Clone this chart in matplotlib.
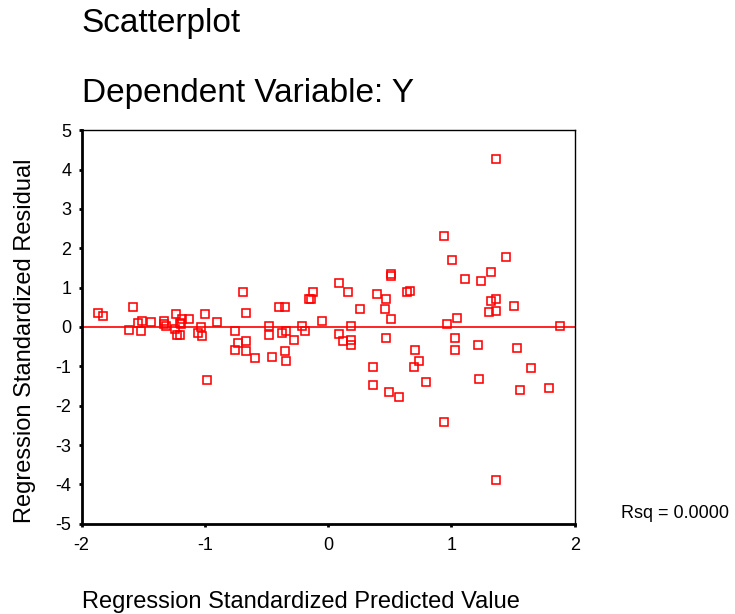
import matplotlib
matplotlib.use('Agg')
import matplotlib.pyplot as plt

plt.rcParams['font.family'] = ['Liberation Sans', 'DejaVu Sans']
plt.rcParams['axes.unicode_minus'] = False

# standardized predicted values (x) and standardized residuals (y)
pred = [-1.865, -1.830, -1.582, -1.619, -1.539, -1.513, -1.515, -1.436, -1.335, -1.319,
        -1.328, -1.238, -1.241, -1.229, -1.201, -1.203, -1.187, -1.192, -1.126, -1.031,
        -1.059, -1.022, -0.996, -0.985, -0.901, -0.694, -0.667, -0.757, -0.730, -0.667,
        -0.758, -0.667, -0.590, -0.481, -0.481, -0.454, -0.378, -0.341, -0.351, -0.343,
        -0.397, -0.351, -0.274, -0.212, -0.185, -0.154, -0.140, -0.120, -0.050, 0.089,
        0.157, 0.261, 0.182, 0.089, 0.117, 0.182, 0.182, 0.393, 0.468, 0.460,
        0.509, 0.509, 0.509, 0.468, 0.638, 0.665, 0.706, 0.733, 0.693, 0.365,
        0.365, 0.495, 0.573, 0.795, 0.963, 0.941, 1.006, 1.439, 1.111, 1.241,
        1.320, 1.317, 1.358, 1.504, 1.303, 1.358, 1.046, 1.879, 1.030, 1.030,
        1.217, 1.528, 1.646, 1.225, 1.552, 1.790, 1.358, 1.358, 0.941]
resid = [0.365, 0.280, 0.500, -0.066, 0.110, 0.157, -0.114, 0.114, 0.157, 0.036,
         0.086, 0.327, -0.053, -0.193, -0.193, 0.107, 0.190, 0.076, 0.200, -0.008,
         -0.142, -0.228, 0.317, -1.353, 0.114, 0.881, 0.365, -0.109, -0.396, -0.358,
         -0.574, -0.622, -0.794, 0.030, -0.193, -0.756, -0.142, -0.104, -0.617, -0.871,
         0.495, 0.495, -0.320, 0.030, -0.109, 0.708, 0.708, 0.881, 0.152, 1.109,
         0.881, 0.449, 0.018, -0.185, -0.363, -0.338, -0.464, 0.848, 0.703, 0.449,
         1.350, 1.287, 0.195, -0.279, 0.888, 0.924, -0.574, -0.871, -1.005, -1.005,
         -1.472, -1.640, -1.777, -1.396, 0.069, 2.302, 1.701, 1.787, 1.218, 1.178,
         1.396, 0.670, 0.711, 0.533, 0.373, 0.406, 0.239, 0.025, -0.269, -0.574,
         -0.447, -0.533, -1.041, -1.310, -1.607, -1.563, 4.274, -3.883, -2.426]

x_ticks = [-2, -1, 0, 1, 2]
y_ticks = [-5, -4, -3, -2, -1, 0, 1, 2, 3, 4, 5]
rsq = 0.0

fig = plt.figure(figsize=(7.35, 6.14), dpi=100)
ax = fig.add_axes([0.111, 0.147, 0.671, 0.641])

ax.plot(pred, resid, linestyle='none', marker='s', markersize=5.8,
        markerfacecolor='none', markeredgecolor='red', markeredgewidth=1.15)
ax.plot([-2, 2], [rsq * 0, rsq * 0], color='red', linewidth=1.2)  # fit line

ax.set_xlim(-2, 2)
ax.set_ylim(-5, 5)
ax.set_xticks(x_ticks)
ax.set_yticks(y_ticks)
ax.tick_params(direction='out', length=2.5, width=2, labelsize=13, pad=5)
ax.tick_params(axis='x', pad=7)

ax.spines['left'].set_linewidth(2)
ax.spines['bottom'].set_linewidth(2)
ax.spines['top'].set_linewidth(1)
ax.spines['right'].set_linewidth(1)

# axis titles placed like the original (y title starts at the bottom of the axis)
fig.text(0.034, 0.148, 'Regression Standardized Residual', fontsize=17,
         rotation=90, ha='center', va='bottom')
fig.text(0.111, 0.020, 'Regression Standardized Predicted Value', fontsize=17,
         ha='left', va='center')
fig.text(0.111, 0.961, 'Scatterplot', fontsize=24, ha='left', va='center')
fig.text(0.111, 0.848, 'Dependent Variable: Y', fontsize=24, ha='left', va='center')
fig.text(0.845, 0.163, 'Rsq = %.4f' % rsq, fontsize=13, ha='left', va='center')

fig.savefig('out.png', dpi=100)
